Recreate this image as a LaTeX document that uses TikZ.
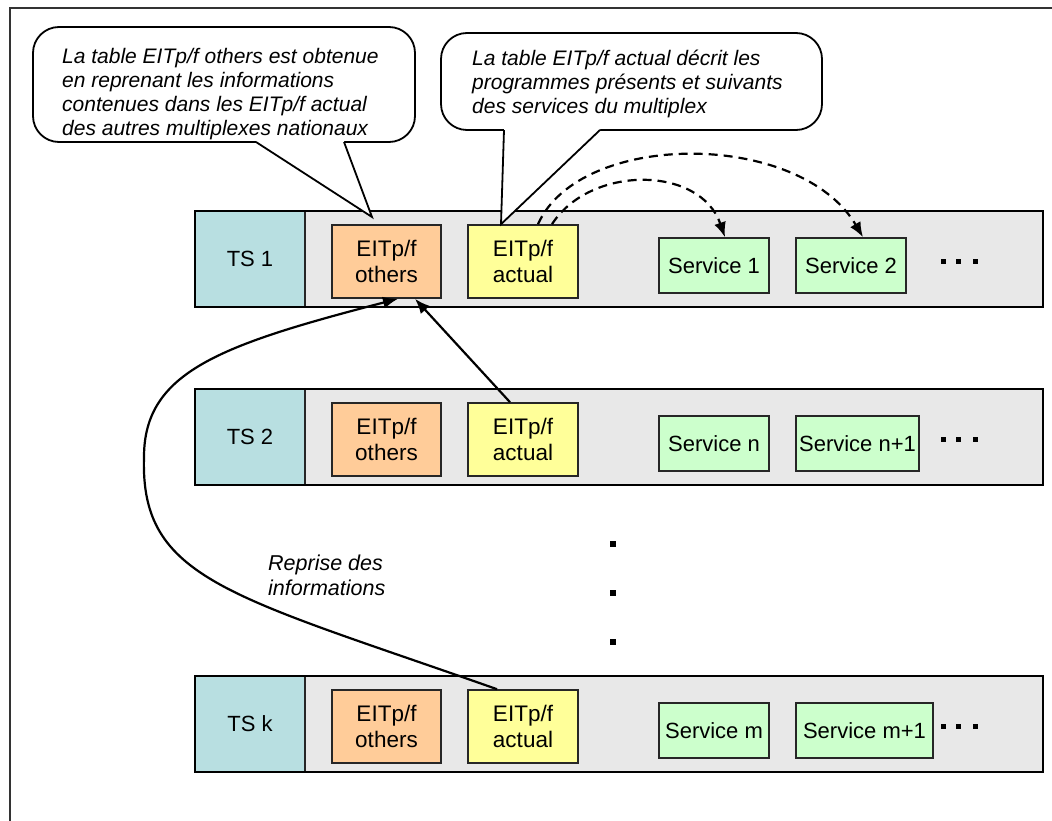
\documentclass[tikz,border=0pt]{standalone}
\usepackage{fontspec}
\setmainfont{Liberation Sans}
\usetikzlibrary{arrows.meta}
\definecolor{tsblue}{RGB}{184,223,225}
\definecolor{othorange}{RGB}{255,204,153}
\definecolor{actyellow}{RGB}{255,255,153}
\definecolor{servgreen}{RGB}{204,255,204}
\definecolor{rowgray}{RGB}{232,232,232}
\tikzset{
  rowbox/.style={draw=black, line width=2pt, fill=rowgray, minimum width=848pt, minimum height=96pt, inner sep=0pt},
  rowframe/.style={draw=black, line width=2pt, fill=none, minimum width=848pt, minimum height=96pt, inner sep=0pt},
  tsbox/.style={draw=black!85, line width=1.4pt, fill=tsblue, minimum width=110pt, minimum height=96pt, inner sep=0pt, font=\fontsize{22}{26}\selectfont},
  eitbox/.style={draw=black!85, line width=1.6pt, minimum width=110pt, minimum height=73pt, inner sep=0pt, align=center, font=\fontsize{22.5}{26.5}\selectfont},
  othbox/.style={eitbox, fill=othorange},
  actbox/.style={eitbox, fill=actyellow},
  servbox/.style={draw=black!85, line width=1.6pt, fill=servgreen, minimum width=110pt, minimum height=55pt, inner sep=0pt, font=\fontsize{22}{26}\selectfont},
  dotsq/.style={fill=black, minimum size=5pt, inner sep=0pt},
  callout/.style={draw=black, line width=1.8pt, fill=white, rounded corners=26pt},
  ctext/.style={align=left, inner sep=0pt, font=\fontsize{21}{24}\selectfont\itshape},
  conn/.style={draw=black, line width=2.2pt, -{Latex[length=15pt,width=12pt]}},
  dconn/.style={conn, dash pattern=on 9pt off 6pt},
}
\begin{document}
\begin{tikzpicture}[x=1pt,y=-1pt]
\useasboundingbox (0,0) rectangle (1052,821);
% frame
\draw[line width=1.6pt, black!80] (10,821) -- (10,8) -- (1052,8);

% ---------- Row 1 ----------
\node[rowbox] (r1) at (619,259) {};
\node[tsbox] (ts1) at (250,259) {TS 1};
\node[rowframe] at (619,259) {};
\node[othbox, minimum width=109pt] (o1) at (386.5,261.5) {EITp/f\\others};
\node[actbox] (a1) at (523,261.5) {EITp/f\\actual};
\node[servbox] (s1) at (714,265.5) {Service 1};
\node[servbox] (s2) at (851,265.5) {Service 2};
\node[dotsq] (d11) at (943,261) {};
\node[dotsq] (d12) at (958,261) {};
\node[dotsq] (d13) at (975,261) {};

% ---------- Row 2 ----------
\node[rowbox] (r2) at (619,437) {};
\node[tsbox] (ts2) at (250,437) {TS 2};
\node[rowframe] at (619,437) {};
\node[othbox, minimum width=109pt] (o2) at (386.5,439.5) {EITp/f\\others};
\node[actbox] (a2) at (523,439.5) {EITp/f\\actual};
\node[servbox] (sn) at (714,443.5) {Service n};
\node[servbox, minimum width=123pt] (sn1) at (857.5,443.5) {Service n+1};
\node[dotsq] (d21) at (943,439) {};
\node[dotsq] (d22) at (958,439) {};
\node[dotsq] (d23) at (975,439) {};

% ---------- Row k ----------
\node[rowbox] (rk) at (619,724) {};
\node[tsbox] (tsk) at (250,724) {TS k};
\node[rowframe] at (619,724) {};
\node[othbox, minimum width=109pt] (ok) at (386.5,726.5) {EITp/f\\others};
\node[actbox] (ak) at (523,726.5) {EITp/f\\actual};
\node[servbox] (sm) at (714,730.5) {Service m};
\node[servbox, minimum width=137pt] (sm1) at (864.5,730.5) {Service m+1};
\node[dotsq] (dk1) at (943,726) {};
\node[dotsq] (dk2) at (958,726) {};
\node[dotsq] (dk3) at (975,726) {};

% vertical dots
\node[dotsq, minimum size=6pt] (v1) at (613,544) {};
\node[dotsq, minimum size=6pt] (v2) at (613,593) {};
\node[dotsq, minimum size=6pt] (v3) at (613,642) {};

% ---------- Callout 1 ----------
\coordinate (tip1) at (372,217);
\draw[callout] (33,27) rectangle (415,142);
\fill[white] (256,139) -- (344,139) -- (344,142) -- (tip1) -- (256,142) -- cycle;
\draw[line width=1.8pt, line join=miter] (256,142) -- (tip1) -- (344,142);
\node[ctext, anchor=west] (c1) at (62,94) {La table EITp/f others est obtenue\\en reprenant les informations\\contenues dans les EITp/f actual\\des autres multiplexes nationaux};

% ---------- Callout 2 ----------
\coordinate (tip2) at ([xshift=-22pt]a1.north);
\draw[callout] (441,33) rectangle (822,130);
\fill[white] (504,127) -- (600,127) -- (600,130) -- (tip2) -- (504,130) -- cycle;
\draw[line width=1.8pt, line join=miter] (504,130) -- (tip2) -- (600,130);
\node[ctext, anchor=west] (c2) at (472,83.5) {La table EITp/f actual décrit les\\programmes présents et suivants\\des services du multiplex};

% ---------- Connectors ----------
\draw[dconn] ([xshift=15pt]a1.north) .. controls (580,130) and (800,130) .. ([xshift=12pt]s2.north);
\draw[dconn] ([xshift=29pt]a1.north) .. controls (590,165) and (700,165) .. ([xshift=11pt]s1.north);
\draw[conn] ([xshift=-13pt]a2.north) -- ([xshift=28.5pt]o1.south);
\coordinate (bend) at (144,457);
\draw[conn] ([xshift=-26pt]ak.north) .. controls (230,595) and (140,580) .. (bend)
  .. controls (144,372) and (220,345) .. ([xshift=11.5pt]o1.south);
\node[ctext, anchor=west, font=\fontsize{21.5}{25}\selectfont\itshape] (rep) at (268,575) {Reprise des\\informations};
\end{tikzpicture}
\end{document}
